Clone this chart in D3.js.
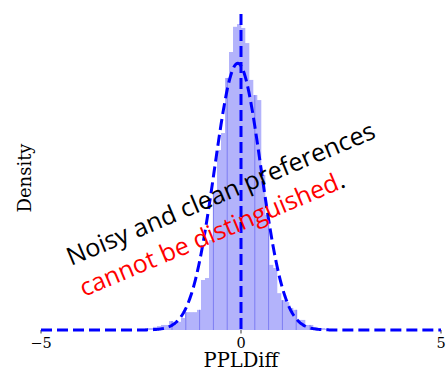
<!DOCTYPE html>
<html>
<head>
<meta charset="utf-8">
<script src="https://cdn.jsdelivr.net/npm/d3@7"></script>
<style>
  body { margin: 0; background: #fff; }
  svg { display: block; }
</style>
</head>
<body>
<div id="chart"></div>
<script>
// histogram of PPLDiff (density), bins of 0.1 starting at -2.6
const binStart = -2.6;
const binWidth = 0.1;
const density = [
  0.003, 0.003, 0.005, 0.005, 0.008, 0.010, 0.013, 0.013, 0.023, 0.015,
  0.021, 0.031, 0.046, 0.046, 0.046, 0.052, 0.129, 0.134, 0.232, 0.356,
  0.464, 0.508, 0.650, 0.717, 0.782, 0.789, 0.779, 0.740, 0.645, 0.606,
  0.593, 0.400, 0.297, 0.168, 0.160, 0.095, 0.077, 0.072, 0.057, 0.052,
  0.026, 0.026, 0.013, 0.013, 0.008, 0.005, 0.005, 0.003, 0.003, 0.001
];
// thin darker edges seen inside the bars
const edgeLines = [-1.725, -1.38, -1.035, -0.69, -0.345, 0.345, 0.69, 1.035, 1.38, 1.725];
// fitted normal
const normMean = -0.08;
const normSd = 0.58;
const xTicks = [-5, 0, 5];
const xDomain = [-5, 5];
const yMax = 0.815;

const config = {
  width: 447,
  height: 373,
  margin: { top: 14, right: 6, bottom: 43, left: 41 }
};
const innerW = config.width - config.margin.left - config.margin.right;
const innerH = config.height - config.margin.top - config.margin.bottom;

const svg = d3.select('#chart').append('svg')
  .attr('width', config.width)
  .attr('height', config.height);
const g = svg.append('g')
  .attr('transform', `translate(${config.margin.left},${config.margin.top})`);

const x = d3.scaleLinear().domain(xDomain).range([0, innerW]);
const y = d3.scaleLinear().domain([0, yMax]).range([innerH, 0]);

const bins = density.map((d, i) => ({
  x0: binStart + i * binWidth,
  x1: binStart + (i + 1) * binWidth,
  d: d
}));

// bars
g.append('g')
  .selectAll('rect')
  .data(bins)
  .enter().append('rect')
  .attr('x', d => x(d.x0))
  .attr('width', d => x(d.x1) - x(d.x0) + 0.3)
  .attr('y', d => y(d.d))
  .attr('height', d => y(0) - y(d.d))
  .attr('fill', '#b3b3fb');

// inner edge lines, up to the bar top at that position
function barAt(v) {
  const b = bins.find(b => v >= b.x0 && v < b.x1);
  return b ? b.d : 0;
}
g.append('g')
  .selectAll('line')
  .data(edgeLines)
  .enter().append('line')
  .attr('x1', d => x(d)).attr('x2', d => x(d))
  .attr('y1', y(0))
  .attr('y2', d => y(barAt(d)))
  .attr('stroke', '#7d7df2')
  .attr('stroke-width', 1);

// x axis ticks and labels
const axis = g.append('g').attr('transform', `translate(0,${innerH})`);
axis.selectAll('line')
  .data(xTicks)
  .enter().append('line')
  .attr('x1', d => x(d)).attr('x2', d => x(d))
  .attr('y1', 0).attr('y2', 3.5)
  .attr('stroke', '#000').attr('stroke-width', 0.8);
axis.selectAll('text')
  .data(xTicks)
  .enter().append('text')
  .attr('x', d => x(d))
  .attr('y', 17.5)
  .attr('text-anchor', 'middle')
  .attr('font-family', '"DejaVu Serif", serif')
  .attr('font-size', 14.5)
  .text(d => d < 0 ? '\u2212' + Math.abs(d) : d);

// normal curve
const pdf = v => Math.exp(-0.5 * ((v - normMean) / normSd) ** 2) / (normSd * Math.sqrt(2 * Math.PI));
const xs = d3.range(xDomain[0], xDomain[1] + 0.001, 0.02);
g.append('path')
  .datum(xs)
  .attr('fill', 'none')
  .attr('stroke', '#0000ff')
  .attr('stroke-width', 3)
  .attr('stroke-dasharray', '11,5')
  .attr('d', d3.line().x(d => x(d)).y(d => y(pdf(d))));

// vertical line at 0
g.append('line')
  .attr('x1', x(0)).attr('x2', x(0))
  .attr('y1', y(yMax)).attr('y2', y(0))
  .attr('stroke', '#0000ff')
  .attr('stroke-width', 3)
  .attr('stroke-dasharray', '11,5');

// axis labels
svg.append('text')
  .attr('x', config.margin.left + x(0))
  .attr('y', 367)
  .attr('text-anchor', 'middle')
  .attr('font-family', '"DejaVu Serif", serif')
  .attr('font-size', 19.5)
  .text('PPLDiff');

svg.append('text')
  .attr('transform', 'translate(31,178) rotate(-90)')
  .attr('text-anchor', 'middle')
  .attr('font-family', '"DejaVu Serif", serif')
  .attr('font-size', 18)
  .text('Density');

// annotation
svg.append('text')
  .attr('transform', 'translate(71,266) rotate(-22.8)')
  .attr('font-family', '"Open Sans", sans-serif')
  .attr('font-size', 25)
  .attr('fill', '#000')
  .attr('textLength', 332)
  .attr('lengthAdjust', 'spacingAndGlyphs')
  .text('Noisy and clean preferences');

const note2 = svg.append('text')
  .attr('transform', 'translate(84,297) rotate(-22.8)')
  .attr('font-family', '"Open Sans", sans-serif')
  .attr('font-size', 25)
  .attr('textLength', 285)
  .attr('lengthAdjust', 'spacingAndGlyphs');
note2.append('tspan').attr('fill', '#ff0000').text('cannot be distinguished');
note2.append('tspan').attr('fill', '#000').text('.');
</script>
</body>
</html>
